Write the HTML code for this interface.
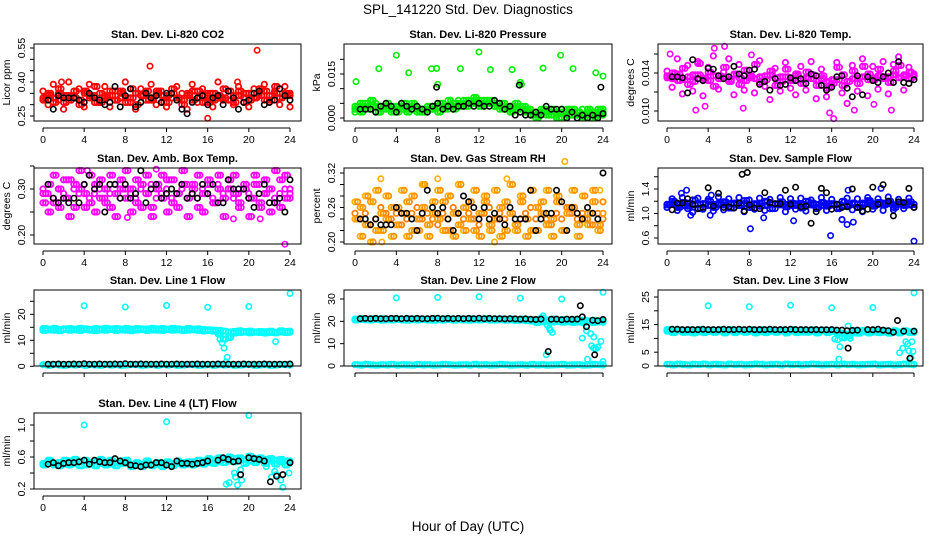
<!DOCTYPE html>
<html><head><meta charset="utf-8"><style>
html,body{margin:0;padding:0;background:#fff;}
svg{display:block;font-family:"Liberation Sans",sans-serif;}
</style></head><body>
<svg id="chart" width="936" height="540" viewBox="0 0 936 540" xmlns="http://www.w3.org/2000/svg">
<rect width="936" height="540" fill="#fff"/>
<text x="468" y="14" font-size="13.5" text-anchor="middle">SPL_141220  Std. Dev. Diagnostics</text>
<text x="468" y="531" font-size="13.5" text-anchor="middle">Hour of Day (UTC)</text>
</svg>
<script>
const hours=[0,0.5,1,1.5,2,2.5,3,3.5,4,4.5,5,5.5,6,6.5,7,7.5,8,8.5,9,9.5,10,10.5,11,11.5,12,12.5,13,13.5,14,14.5,15,15.5,16,16.5,17,17.5,18,18.5,19,19.5,20,20.5,21,21.5,22,22.5,23,23.5,24];
const hoursB=[0.25,0.75,1.25,1.75,2.25,2.75,3.25,3.75,4.25,4.75,5.25,5.75,6.25,6.75,7.25,7.75,8.25,8.75,9.25,9.75,10.25,10.75,11.25,11.75,12.25,12.75,13.25,13.75,14.25,14.75,15.25,15.75,16.25,16.75,17.25,17.75,18.25,18.75,19.25,19.75,20.25,20.75,21.25,21.75,22.25,22.75,23.25,23.75,24];
const xTicks=[0,4,8,12,16,20,24];

const co2A=[0.33,0.35,0.31,0.37,0.34,0.32,0.36,0.30,0.35,0.33,0.38,0.31,0.34,0.36,0.32,0.35,0.33,0.37,0.30,0.34,0.36,0.32,0.35,0.31,0.34,0.37,0.33,0.30,0.35,0.32,0.36,0.34,0.31,0.35,0.33,0.37,0.32,0.34,0.36,0.31,0.35,0.33,0.37,0.32,0.34,0.38,0.33,0.35,0.34];
const co2B=[0.36,0.30,0.39,0.32,0.28,0.40,0.33,0.37,0.29,0.39,0.34,0.31,0.38,0.29,0.36,0.33,0.40,0.31,0.28,0.37,0.35,0.39,0.30,0.36,0.29,0.33,0.38,0.35,0.28,0.39,0.31,0.37,0.34,0.29,0.40,0.32,0.36,0.30,0.38,0.33,0.29,0.37,0.35,0.39,0.31,0.36,0.30,0.38,0.29];
const co2C=[0.32,0.34,0.33,0.35,0.31,0.34,0.33,0.32,0.36,0.34,0.31,0.35,0.33,0.34,0.32,0.36,0.31,0.33,0.35,0.34,0.32,0.33,0.36,0.34,0.31,0.35,0.33,0.32,0.34,0.36,0.33,0.31,0.35,0.32,0.34,0.33,0.36,0.31,0.34,0.35,0.32,0.33,0.34,0.36,0.32,0.35,0.33,0.34,0.35];
const co2Out=[[10.4,0.47],[20.8,0.54],[16,0.24],[1.8,0.40],[18.9,0.40]];
const co2K=[null,0.32,0.28,0.34,0.33,0.33,0.33,0.32,0.31,0.35,0.33,0.32,0.30,0.31,0.38,0.29,0.34,0.37,0.29,0.31,0.35,0.33,0.34,0.31,0.35,0.35,0.32,0.28,0.26,0.31,0.33,0.34,0.30,0.33,0.34,0.30,0.36,0.33,0.28,0.31,0.32,0.35,0.36,0.30,0.31,0.32,0.37,0.34,0.32];

const prA=[.004,.005,.003,.006,.004,.003,.005,.004,.002,.005,.003,.004,.002,.003,.004,.003,.005,.004,.006,.005,.004,.006,.005,.007,.006,.005,.006,.004,.005,.003,.004,.005,.003,.002,.001,.000,.002,.001,.003,.002,.000,.001,.003,.002,.001,.003,.000,.002,.003];
const prB=[.003,.002,.005,.004,.002,.004,.003,.002,.004,.003,.002,.005,.003,.002,.003,.004,.002,.003,.004,.003,.005,.004,.006,.005,.004,.006,.005,.004,.003,.004,.002,.003,.004,.003,.002,.001,.003,.002,.001,.000,.002,.003,.001,.002,.000,.002,.001,.003,.002];
const prC=[.002,.004,.004,.003,.005,.002,.004,.003,.003,.004,.005,.003,.004,.003,.002,.003,.004,.005,.003,.004,.006,.005,.004,.006,.005,.004,.005,.005,.004,.005,.003,.004,.002,.004,.003,.002,.001,.003,.002,.001,.003,.002,.002,.001,.003,.001,.002,.001,.001];
const prOut=[[0.1,0.0124],[2.3,0.0168],[4,0.0214],[5.2,0.0154],[7.4,0.0168],[7.9,0.0169],[8,0.0115],[10.2,0.0168],[12,0.0225],[13.1,0.0165],[15.2,0.0165],[16,0.0122],[16.1,0.0115],[18.2,0.017],[19.9,0.0214],[21.1,0.0168],[23.3,0.0154],[24,0.0143]];
const prK=[null,.003,.003,.003,.002,.004,.005,.004,.002,.005,.004,.003,.004,.003,.002,.004,.005,.003,.004,.003,.004,.004,.005,.004,.005,.004,.004,.006,.005,.003,.004,.001,.002,.001,.001,.002,.001,.004,.003,.003,.003,.000,.002,.000,.001,.000,.001,.000,.0015];
const prKOut=[[7.9,0.0105],[15.9,0.0112],[23.8,0.0105]];

const tA=[.0135,.014,.0132,.0145,.0128,.0138,.015,.0133,.0141,.0126,.0137,.0146,.0131,.0139,.0128,.0143,.0135,.0149,.013,.0137,.0142,.0127,.0136,.0144,.0132,.0139,.0129,.0141,.0134,.0127,.0137,.0124,.0133,.0146,.0138,.0131,.0142,.0135,.0147,.0139,.0133,.0144,.0136,.013,.0142,.0148,.0138,.0141,.0136];
const tB=[.0142,.0125,.0155,.0118,.0148,.0121,.0152,.0116,.0146,.0158,.0123,.0141,.0155,.0117,.0149,.0122,.0138,.0119,.0153,.0126,.0112,.0145,.0121,.0151,.0124,.0117,.0147,.0122,.0152,.0113,.0144,.0115,.0126,.0151,.0119,.0108,.0148,.0121,.0155,.0116,.0147,.0123,.0152,.0118,.0149,.0157,.0122,.0146,.0138];
const tC=[.0137,.0134,.0139,.0133,.0136,.0131,.0138,.0135,.0132,.0137,.0134,.0136,.0133,.0138,.0135,.0132,.0137,.0134,.0136,.0133,.0138,.0135,.0131,.0136,.0134,.0137,.0133,.0135,.0138,.0132,.0134,.0131,.0129,.0133,.0127,.0131,.0134,.0129,.0136,.0133,.0135,.0137,.0134,.0136,.0138,.0135,.0137,.0134,.0139];
const tOut=[[0.3,0.016],[2.8,0.0101],[4.6,0.0166],[5.6,0.0168],[8.2,0.0159],[16.2,0.0092],[18.2,0.0101],[21.8,0.0101],[15.8,0.0098],[20.1,0.0107],[3.7,0.0105],[7.4,0.0103]];
const tK=[null,.0136,.0136,.0135,.0119,.0154,.0134,.0132,.0145,.0144,.0137,.0134,.0136,.0147,.0139,.0137,.0143,.0144,.0128,.0131,.0122,.0134,.0127,.0128,.0135,.0132,.0134,.0129,.0139,.0137,.0127,.0122,.0125,.0136,.0137,.0124,.0115,.0137,.0117,.0136,.0132,.0130,.0136,.0140,.0130,.0152,.0130,.0129,.0133];

const aA=[0.29,0.31,0.27,0.30,0.28,0.32,0.26,0.30,0.29,0.27,0.31,0.28,0.30,0.26,0.29,0.32,0.28,0.30,0.27,0.31,0.29,0.26,0.30,0.28,0.32,0.27,0.29,0.31,0.28,0.30,0.26,0.29,0.31,0.27,0.30,0.28,0.32,0.29,0.27,0.30,0.28,0.31,0.26,0.29,0.30,0.27,0.32,0.28,0.30];
const aB=[0.27,0.25,0.33,0.26,0.32,0.24,0.31,0.34,0.26,0.33,0.25,0.32,0.27,0.33,0.24,0.30,0.34,0.25,0.32,0.26,0.33,0.24,0.31,0.33,0.25,0.32,0.26,0.34,0.24,0.31,0.33,0.25,0.32,0.27,0.33,0.24,0.30,0.33,0.26,0.31,0.24,0.33,0.27,0.32,0.25,0.34,0.26,0.33,0.28];
const aC=[0.30,0.29,0.28,0.30,0.29,0.28,0.30,0.29,0.31,0.28,0.29,0.30,0.28,0.29,0.31,0.28,0.30,0.29,0.28,0.30,0.29,0.31,0.28,0.29,0.30,0.28,0.29,0.30,0.31,0.29,0.28,0.30,0.29,0.28,0.31,0.29,0.30,0.28,0.29,0.30,0.29,0.28,0.31,0.29,0.30,0.28,0.29,0.30,0.29];
const aOut=[[23.5,0.18],[11,0.343],[4.3,0.34],[18.5,0.235],[8.2,0.238],[21.1,0.235]];
const aK=[null,0.31,0.28,0.27,0.28,0.27,0.28,0.27,0.31,0.33,0.30,0.31,0.25,0.31,0.31,0.28,0.31,0.28,0.29,0.34,0.27,0.30,0.31,0.28,0.29,0.30,0.29,0.31,0.28,0.29,0.28,0.31,0.29,0.31,0.27,0.27,0.32,0.30,0.30,0.30,0.28,0.26,0.29,0.31,0.27,0.27,0.28,0.25,0.32];

const rA=[0.24,0.26,0.23,0.27,0.22,0.25,0.24,0.26,0.23,0.25,0.27,0.22,0.24,0.26,0.23,0.25,0.24,0.27,0.22,0.25,0.23,0.26,0.24,0.22,0.25,0.27,0.23,0.24,0.26,0.22,0.25,0.23,0.27,0.24,0.22,0.26,0.25,0.23,0.24,0.27,0.22,0.25,0.26,0.23,0.24,0.25,0.27,0.23,0.25];
const rB=[0.27,0.21,0.28,0.20,0.29,0.22,0.28,0.21,0.26,0.29,0.21,0.28,0.22,0.30,0.21,0.27,0.29,0.22,0.28,0.21,0.30,0.22,0.27,0.29,0.21,0.28,0.22,0.29,0.21,0.27,0.30,0.22,0.28,0.21,0.29,0.22,0.27,0.29,0.21,0.28,0.22,0.26,0.29,0.21,0.28,0.23,0.29,0.22,0.27];
const rC=[0.25,0.24,0.25,0.23,0.24,0.26,0.25,0.24,0.25,0.23,0.24,0.25,0.26,0.24,0.25,0.24,0.23,0.25,0.24,0.26,0.25,0.24,0.25,0.24,0.23,0.25,0.26,0.24,0.25,0.24,0.25,0.23,0.24,0.25,0.26,0.24,0.25,0.24,0.23,0.25,0.24,0.26,0.25,0.24,0.25,0.24,0.23,0.25,0.24];
const rOut=[[2.5,0.31],[8,0.31],[14.7,0.31],[20.3,0.34],[23.7,0.29],[2.6,0.20],[13.5,0.20],[6.6,0.30]];
const rK=[null,0.24,0.24,0.23,0.24,0.23,0.23,0.23,0.26,0.25,0.25,0.24,0.22,0.25,0.29,0.26,0.25,0.26,0.24,0.22,0.25,0.28,0.27,0.26,0.24,0.26,0.24,0.25,0.24,0.23,0.26,0.24,0.24,0.24,0.29,0.22,0.24,0.25,0.25,0.29,0.27,0.22,0.26,0.25,0.24,0.26,0.25,0.24,0.32];

const sA=[1.15,1.2,1.1,1.18,1.12,1.22,1.08,1.16,1.2,1.1,1.14,1.19,1.09,1.17,1.13,1.21,1.1,1.16,1.12,1.2,1.08,1.15,1.19,1.11,1.17,1.13,1.09,1.2,1.14,1.1,1.18,1.12,1.16,1.08,1.2,1.13,1.17,1.1,1.15,1.21,1.12,1.18,1.14,1.2,1.1,1.16,1.13,1.19,1.15];
const sB=[1.1,1.24,1.05,1.26,1.08,1.02,1.25,1.07,1.23,1.04,1.27,1.06,1.24,1.09,1.26,1.03,1.22,1.07,1.25,1.05,1.23,1.08,1.26,1.03,1.24,1.07,1.25,1.04,1.22,1.08,1.26,1.05,1.23,1.09,0.9,1.25,1.06,1.24,1.03,1.26,1.07,1.24,1.05,1.27,1.06,1.23,1.08,1.25,1.1];
const sC=[1.14,1.16,1.15,1.13,1.17,1.14,1.15,1.16,1.13,1.15,1.17,1.14,1.16,1.15,1.13,1.16,1.14,1.15,1.17,1.13,1.15,1.16,1.14,1.15,1.13,1.16,1.15,1.14,1.17,1.15,1.13,1.16,1.14,1.15,1.12,1.14,1.16,1.15,1.17,1.18,1.16,1.15,1.17,1.16,1.14,1.15,1.16,1.14,1.15];
const sOut=[[8.1,0.75],[15.9,0.64],[24,0.55],[12.3,0.88],[9.4,0.93],[17.5,0.82],[18.1,0.86],[1.4,1.33],[1.9,1.38],[17.6,1.38],[4.3,1.3],[20.8,1.41],[4.2,0.97],[2.3,0.97]];
const sK=[null,1.06,1.17,1.17,1.24,1.15,1.08,1.1,1.42,1.12,1.33,1.1,1.11,1.09,1.17,1.04,1.14,1.09,1.08,1.34,1.18,1.16,1.16,1.38,1.15,1.43,1.11,1.12,0.84,1.03,1.41,1.34,1.07,1.15,1.1,1.11,1.4,1.1,1.04,1.07,1.43,1.15,1.47,1.2,0.96,1.19,1.18,1.41,1.1];
const sKOut=[[7.3,1.64],[7.8,1.67]];

const l1A=[14.5,14.3,14.6,14.2,14.4,14.5,14.3,14.6,14.4,14.2,14.5,14.3,14.6,14.4,14.5,14.3,14.6,14.2,14.5,14.4,14.3,14.6,14.4,14.5,14.3,14.6,14.4,14.2,14.5,14.3,14.4,14.1,14.0,13.9,13.8,13.5,13.2,13.4,13.6,13.4,13.5,13.2,13.4,13.3,13.5,13.1,13.6,13.4,13.5];
const l1B=[13.8,14.0,13.9,13.7,14.1,13.9,14.0,13.8,14.1,13.9,13.7,14.0,13.9,14.1,13.8,14.0,13.9,13.7,14.0,14.1,13.8,14.0,13.9,13.8,14.1,13.9,14.0,13.8,13.9,14.0,13.8,13.6,13.7,13.5,12.5,10.5,11.2,12.8,13.0,13.1,12.9,13.1,13.0,12.8,13.0,12.9,13.2,13.0,13.1];
const l1Z=[0.6,0.4,0.7,0.5,0.4,0.6,0.5,0.7,0.4,0.6,0.5,0.4,0.7,0.5,0.6,0.4,0.5,0.7,0.6,0.4,0.5,0.6,0.4,0.7,0.5,0.6,0.4,0.5,0.7,0.6,0.4,0.5,0.6,0.4,0.7,0.5,0.6,0.4,0.5,0.6,0.7,0.4,0.5,0.6,0.4,0.5,0.7,0.6,0.5];
const l1Out=[[4,23.3],[8,22.8],[12,23.4],[16,22.7],[20,23],[24,28],[17.9,3.5],[17.6,7],[17.4,9],[17.2,10.5],[18.2,11],[22.6,9.5],[17.1,12.5],[17.8,1.7]];
const l1K=[null,0.8,0.8,0.9,0.8,0.8,0.9,0.8,1.0,0.8,0.8,0.9,0.8,0.8,0.9,0.8,1.0,0.8,0.8,0.9,0.8,0.8,0.8,0.9,0.8,0.8,0.9,0.8,0.8,0.8,0.9,0.8,0.8,0.8,0.9,0.8,0.8,0.8,0.8,0.9,0.8,0.8,0.8,0.9,0.8,0.8,0.8,0.8,0.9];

const l2A=[21.0,21.2,20.9,21.1,21.0,21.2,20.8,21.1,21.0,20.9,21.2,21.0,21.1,20.9,21.0,21.2,20.8,21.1,21.0,20.9,21.1,21.0,21.2,20.9,21.0,21.1,20.8,21.0,21.1,20.9,21.0,20.8,21.0,20.9,20.7,20.8,21.5,20.5,21.0,20.6,20.8,20.4,20.6,20.3,20.5,20.2,20.4,20.1,20.3];
const l2B=[20.6,20.8,20.7,20.6,20.8,20.5,20.7,20.6,20.8,20.6,20.5,20.7,20.6,20.8,20.6,20.5,20.7,20.6,20.8,20.5,20.7,20.6,20.5,20.7,20.6,20.8,20.5,20.6,20.7,20.5,20.6,20.4,20.5,20.3,20.1,19.5,19.8,20.0,19.7,19.9,19.6,19.8,19.5,19.7,19.4,19.6,19.5,19.8,19.6];
const l2Z=[0.6,0.4,0.7,0.5,0.4,0.6,0.5,0.7,0.4,0.6,0.5,0.4,0.7,0.5,0.6,0.4,0.5,0.7,0.6,0.4,0.5,0.6,0.4,0.7,0.5,0.6,0.4,0.5,0.7,0.6,0.4,0.5,0.6,0.4,0.7,0.5,0.6,0.4,0.5,0.6,0.7,0.4,0.5,0.6,0.4,0.5,0.7,0.6,0.5];
const l2Out=[[4,30.5],[8,30.7],[12,31],[16,30.4],[20,30],[24,33],[18.2,22.5],[18.6,18.3],[18.9,16],[19.1,15],[18.8,17],[18.5,5],[22,12.5],[22.4,15.8],[22.8,14.5],[22.9,9],[23.1,8],[23.3,7.8],[23.5,8.5],[23.1,13],[23.8,11],[22.5,3],[24,2]];
const l2K=[null,21.2,21.3,21.2,21.3,21.2,21.2,21.3,21.3,21.2,21.3,21.2,21.3,21.2,21.2,21.3,21.4,21.2,21.3,21.2,21.3,21.2,21.3,21.2,21.4,21.2,21.3,21.2,21.2,21.1,21.2,21.1,21.0,21.1,20.9,20.8,21.0,null,20.9,21.0,20.7,21.0,20.9,21.0,22.0,null,20.5,20.3,20.8];
const l2KOut=[[18.7,6.5],[21.8,27],[22.4,17.6],[23.2,5]];

const l3A=[12.6,12.4,12.7,12.5,12.3,12.6,12.4,12.7,12.5,12.3,12.6,12.5,12.7,12.4,12.6,12.3,12.5,12.7,12.4,12.6,12.5,12.3,12.6,12.4,12.7,12.5,12.3,12.6,12.4,12.5,12.7,12.3,12.5,12.2,11.8,10.8,12.0,12.5,12.4,12.6,12.3,12.5,12.2,12.4,12.6,12.3,12.5,12.4,12.2];
const l3B=[13.2,12.1,13.0,12.2,13.1,12.0,13.2,12.1,13.0,12.2,13.1,12.0,13.2,12.1,13.0,12.2,13.1,12.0,13.2,12.1,13.0,12.2,13.1,12.0,13.2,12.1,13.0,12.2,13.1,12.0,13.0,12.1,12.9,11.9,10.2,11.5,12.8,11.9,12.9,12.0,12.8,12.1,12.7,11.9,12.8,12.0,12.7,12.1,12.6];
const l3Z=[0.6,0.4,0.7,0.5,0.4,0.6,0.5,0.7,0.4,0.6,0.5,0.4,0.7,0.5,0.6,0.4,0.5,0.7,0.6,0.4,0.5,0.6,0.4,0.7,0.5,0.6,0.4,0.5,0.7,0.6,0.4,0.5,0.6,0.4,0.7,0.5,0.6,0.4,0.5,0.6,0.7,0.4,0.5,0.6,0.4,0.5,0.7,0.6,0.5];
const l3Out=[[4,21.8],[8,21.5],[12,22],[16,21.1],[20,21.2],[24,26.5],[17.6,14.5],[17.8,10],[17.5,11],[16.3,9.8],[16.6,9.5],[16.8,7],[16.7,2.5],[22.6,4.8],[22.9,6.4],[23.2,8.8],[23.4,8],[23.5,5.5],[23.7,3],[23.9,5.3],[23.8,8.8],[20.4,12.5]];
const l3K=[null,13.3,13.3,13.2,13.2,13.2,13.2,13.3,13.2,13.2,13.2,13.3,13.2,13.2,13.3,13.2,13.3,13.2,13.2,13.2,13.3,13.2,13.2,13.2,13.3,13.2,13.2,13.2,13.1,13.2,13.1,13.1,13.2,13.0,13.0,12.8,12.9,13.0,null,13.2,13.1,13.3,13.0,12.8,12.2,null,12.6,null,12.6];
const l3KOut=[[17.6,6.5],[22.4,16.5],[23.6,2.8]];

const l4A=[0.52,0.54,0.50,0.53,0.51,0.55,0.52,0.54,0.50,0.53,0.55,0.52,0.54,0.51,0.53,0.55,0.52,0.50,0.53,0.51,0.52,0.50,0.53,0.51,0.54,0.52,0.55,0.53,0.51,0.54,0.52,0.55,0.53,0.56,0.54,0.57,0.55,0.58,0.56,0.57,0.55,0.58,0.56,0.57,0.55,0.56,0.54,0.55,0.53];
const l4B=[0.50,0.56,0.52,0.49,0.56,0.50,0.57,0.49,0.56,0.51,0.49,0.57,0.50,0.56,0.49,0.52,0.56,0.48,0.51,0.48,0.55,0.49,0.51,0.48,0.53,0.49,0.52,0.50,0.54,0.50,0.56,0.51,0.58,0.52,0.59,0.53,0.60,0.54,0.59,0.52,0.61,0.53,0.59,0.52,0.58,0.51,0.57,0.50,0.55];
const l4Out=[[4,1.0],[12,1.04],[20,1.12],[17.8,0.26],[18.1,0.28],[18.6,0.4],[18.7,0.35],[18.9,0.25],[19.2,0.44],[19.3,0.31],[21.7,0.48],[22.2,0.35],[22.5,0.42],[22.7,0.38],[23.1,0.31],[23.3,0.22],[23.9,0.4]];
const l4K=[null,0.51,0.53,0.49,0.52,0.53,0.53,0.54,0.56,0.51,0.56,0.54,0.53,0.53,0.58,0.55,0.53,0.50,0.49,0.48,0.50,0.50,0.53,0.53,0.50,0.48,0.55,0.52,0.52,0.51,0.52,0.53,0.55,null,0.56,0.59,0.57,0.54,0.55,null,0.59,0.58,0.57,0.55,null,null,null,null,0.53];
const l4KOut=[[19.2,0.38],[22.1,0.29],[22.7,0.36],[23.3,0.38]];

const svg=document.getElementById('chart');
const NS='http://www.w3.org/2000/svg';
const colL=[34,344,658],colR=[301,612,923],colX0=[43,355,667],colX24=[290,603,914];
const rowT=[44,168,290,413],rowB=[121,244,366,489];

function mk(tag,attrs,parent){const e=document.createElementNS(NS,tag);for(const k in attrs)e.setAttribute(k,attrs[k]);(parent||svg).appendChild(e);return e;}

// series: [values, color, timeArray]
const panels=[
 {id:'co2',title:'Stan. Dev. Li-820 CO2',ylab:'Licor ppm',c:0,r:0,v1:0.55,p1:48,v2:0.25,p2:116,ticks:[0.25,0.30,0.35,0.40,0.45,0.50,0.55],labels:[0.25,0.40,0.55],fmt:2,xl:true,
  series:[[co2B,'#ff0000',hours],[co2A,'#ff0000',hoursB],[co2C,'#ff0000',hours],[co2A,'#ff0000',hours],[co2C,'#ff0000',hoursB]],out:[[co2Out,'#ff0000']],black:co2K,bout:[]},
 {id:'pressure',title:'Stan. Dev. Li-820 Pressure',ylab:'kPa',c:1,r:0,v1:0.015,p1:74,v2:0,p2:118,ticks:[0,0.005,0.010,0.015,0.020],labels:[0,0.015],fmt:3,xl:true,
  series:[[prB,'#00ee00',hours],[prA,'#00ee00',hoursB],[prC,'#00ee00',hours],[prA,'#00ee00',hours],[prB,'#00ee00',hoursB]],out:[[prOut,'#00ee00']],black:prK,bout:prKOut},
 {id:'temp',title:'Stan. Dev. Li-820 Temp.',ylab:'degrees C',c:2,r:0,v1:0.014,p1:73,v2:0.010,p2:111,ticks:[0.010,0.012,0.014,0.016],labels:[0.010,0.014],fmt:3,xl:true,
  series:[[tB,'#ff00ff',hours],[tA,'#ff00ff',hoursB],[tC,'#ff00ff',hours],[tA,'#ff00ff',hours],[tC,'#ff00ff',hoursB]],out:[[tOut,'#ff00ff']],black:tK,bout:[]},
 {id:'ambbox',title:'Stan. Dev. Amb. Box Temp.',ylab:'degrees C',c:0,r:1,v1:0.30,p1:189,v2:0.20,p2:235,ticks:[0.20,0.25,0.30,0.35],labels:[0.20,0.30],fmt:2,xl:true,
  series:[[aB,'#ff00ff',hours],[aA,'#ff00ff',hoursB],[aC,'#ff00ff',hours],[aA,'#ff00ff',hours],[aB,'#ff00ff',hoursB]],out:[[aOut,'#ff00ff']],black:aK,bout:[]},
 {id:'rh',title:'Stan. Dev. Gas Stream RH',ylab:'percent',c:1,r:1,v1:0.32,p1:173,v2:0.20,p2:242,ticks:[0.20,0.22,0.24,0.26,0.28,0.30,0.32],labels:[0.20,0.26,0.32],fmt:2,xl:true,
  series:[[rB,'#ffb000',hours],[rA,'#ff9000',hoursB],[rC,'#ff8000',hours],[rA,'#ffa000',hours],[rB,'#ff9000',hoursB]],out:[[rOut,'#ffb000']],black:rK,bout:[]},
 {id:'sampleflow',title:'Stan. Dev. Sample Flow',ylab:'ml/min',c:2,r:1,v1:1.4,p1:189,v2:0.6,p2:238,ticks:[0.6,0.8,1.0,1.2,1.4,1.6],labels:[0.6,1.0,1.4],fmt:1,xl:true,
  series:[[sB,'#0000ff',hours],[sA,'#0000ff',hoursB],[sC,'#0000ff',hours],[sA,'#0000ff',hours],[sC,'#0000ff',hoursB]],out:[[sOut,'#0000ff']],black:sK,bout:sKOut},
 {id:'line1',title:'Stan. Dev. Line 1 Flow',ylab:'ml/min',c:0,r:2,v1:20,p1:314.3,v2:0,p2:366.3,ticks:[0,5,10,15,20,25],labels:[0,10,20],fmt:0,xl:false,
  series:[[l1A,'#00ffff',hours],[l1B,'#00ffff',hoursB],[l1A,'#00ffff',hoursB],[l1B,'#00ffff',hours],[l1Z,'#00ffff',hours],[l1Z,'#00ffff',hoursB]],out:[[l1Out,'#00ffff']],black:l1K,bout:[]},
 {id:'line2',title:'Stan. Dev. Line 2 Flow',ylab:'ml/min',c:1,r:2,v1:30,p1:299,v2:0,p2:366,ticks:[0,10,20,30],labels:[0,10,20,30],fmt:0,xl:false,
  series:[[l2A,'#00ffff',hours],[l2B,'#00ffff',hoursB],[l2A,'#00ffff',hoursB],[l2B,'#00ffff',hours],[l2Z,'#00ffff',hours],[l2Z,'#00ffff',hoursB]],out:[[l2Out,'#00ffff']],black:l2K,bout:l2KOut},
 {id:'line3',title:'Stan. Dev. Line 3 Flow',ylab:'ml/min',c:2,r:2,v1:25,p1:297,v2:0,p2:366,ticks:[0,5,10,15,20,25],labels:[0,5,15,25],fmt:0,xl:false,
  series:[[l3A,'#00ffff',hours],[l3B,'#00ffff',hoursB],[l3A,'#00ffff',hoursB],[l3B,'#00ffff',hours],[l3Z,'#00ffff',hours],[l3Z,'#00ffff',hoursB]],out:[[l3Out,'#00ffff']],black:l3K,bout:l3KOut},
 {id:'line4',title:'Stan. Dev. Line 4 (LT) Flow',ylab:'ml/min',c:0,r:3,v1:1.0,p1:425,v2:0.2,p2:489,ticks:[0.2,0.4,0.6,0.8,1.0],labels:[0.2,0.6,1.0],fmt:1,xl:true,
  series:[[l4B,'#00ffff',hours],[l4A,'#00ffff',hoursB],[l4A,'#00ffff',hours],[l4B,'#00ffff',hoursB]],out:[[l4Out,'#00ffff']],black:l4K,bout:l4KOut}
];

panels.forEach(p=>{
  const L=colL[p.c],R=colR[p.c],T=rowT[p.r],B=rowB[p.r];
  const xs=h=>colX0[p.c]+(colX24[p.c]-colX0[p.c])*h/24;
  const ys=v=>p.p2+(v-p.v2)*(p.p1-p.p2)/(p.v1-p.v2);
  const g=mk('g',{});
  
  
  const t=mk('text',{x:(L+R)/2,y:T-6,'font-size':'11','font-weight':'bold','text-anchor':'middle'},g);
  t.textContent=p.title;
  
  
  const plot=mk('g',{},g);
  
  
  const dot=(h,v,col,sw)=>{
    if(v===null||v===undefined||h===undefined)return;
    const c=mk('circle',{cx:xs(h).toFixed(1),cy:ys(v).toFixed(1),r:2.7,fill:'none',stroke:col,'stroke-width':sw},plot);
    
    
  };
  p.series.forEach(([arr,col,tm])=>arr.forEach((v,i)=>dot(tm[i],v,col,1.8)));
  p.out.forEach(([arr,col])=>arr.forEach(([h,v])=>dot(h,v,col,1.6)));
  p.black.forEach((v,i)=>dot(hours[i],v,'#000',1.6));
  p.bout.forEach(([h,v])=>dot(h,v,'#000',1.6));
  const box=mk('rect',{x:L,y:T,width:R-L,height:B-T,fill:'none',stroke:'#000','stroke-width':1},g);
  
  
  const ya=mk('g',{},g);
  
  
  mk('line',{x1:L,x2:L,y1:ys(p.ticks[0]),y2:ys(p.ticks[p.ticks.length-1]),stroke:'#000'},ya);
  p.ticks.forEach(v=>mk('line',{x1:L-4,x2:L,y1:ys(v),y2:ys(v),stroke:'#000'},ya));
  p.labels.forEach(v=>{
    const y=ys(v),x=L-9;
    const tx=mk('text',{x:x,y:y,'font-size':'10.5','text-anchor':'middle',transform:`rotate(-90 ${x} ${y})`},ya);
    tx.textContent=v.toFixed(p.fmt);
    
    
  });
  const yt=mk('text',{x:L-24,y:(T+B)/2,'font-size':'10.5','text-anchor':'middle',transform:`rotate(-90 ${L-24} ${(T+B)/2})`},g);
  yt.textContent=p.ylab;
  
  
  const xa=mk('g',{},g);
  
  
  const ay=B+7;
  mk('line',{x1:xs(0),x2:xs(24),y1:ay,y2:ay,stroke:'#000'},xa);
  xTicks.forEach(h=>{
    mk('line',{x1:xs(h),x2:xs(h),y1:ay,y2:ay+4,stroke:'#000'},xa);
    if(p.xl){
      const tx=mk('text',{x:xs(h),y:ay+15,'font-size':'10.5','text-anchor':'middle'},xa);
      tx.textContent=h;
      
      
    }
  });
});
</script>
</body></html>
